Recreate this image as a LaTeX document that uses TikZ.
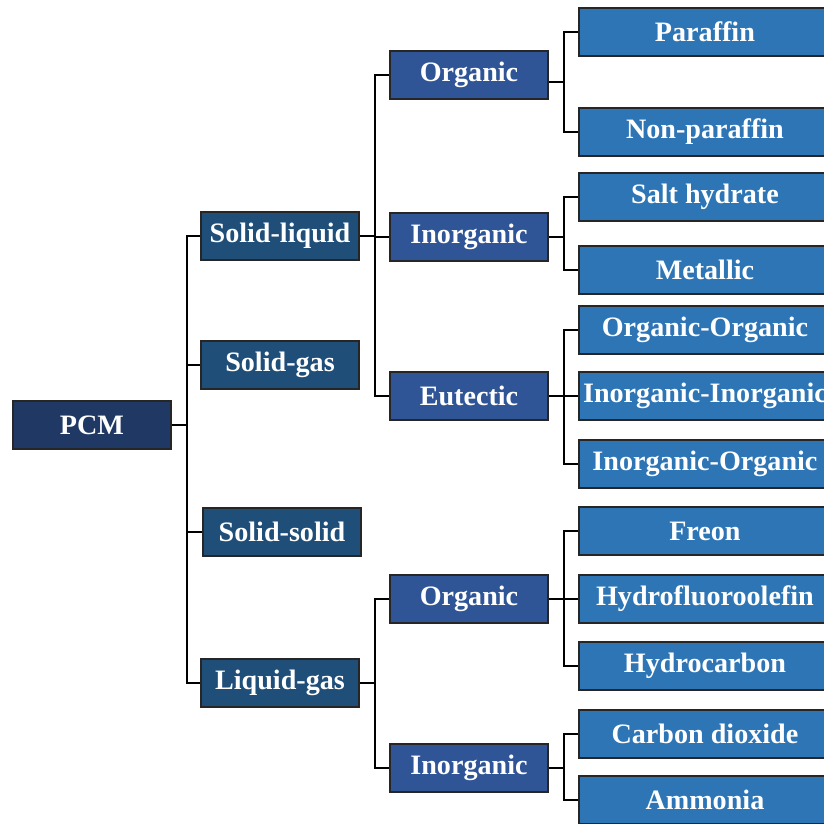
\documentclass[tikz,border=0pt]{standalone}
\usepackage{fontspec}
\setmainfont{Liberation Serif}
\usepackage{xcolor}
\usetikzlibrary{positioning, calc}
\definecolor{rootblue} {HTML}{1F3864}
\definecolor{phaseblue}{HTML}{1F4E79}
\definecolor{classblue}{HTML}{2F5597}
\definecolor{typeblue} {HTML}{2E75B6}

\begin{document}
\begin{tikzpicture}[
  x=0.025cm, y=-0.025cm,
  % one box look for every level, only the fill changes from left to right
  box/.style={draw=black!85, line width=1.3pt, minimum height=1.2cm,
              inner sep=0pt, text=white,
              font=\fontsize{20}{24}\selectfont\bfseries},
  root/.style={box, fill=rootblue, minimum width=3.95cm},
  phase/.style={box, fill=phaseblue, minimum width=3.95cm},
  class/.style={box, fill=classblue, minimum width=3.95cm},
  % the right column runs past the page edge, so it is anchored on its left side
  kind/.style={box, fill=typeblue, minimum width=6.3cm, anchor=west},
  link/.style={line width=1.3pt, color=black}
]
\useasboundingbox (0,0) rectangle (824,824);
\clip (0,0) rectangle (824,824);

\node[root] (pcm) at (92, 425) {PCM};

\node[phase] (sl) at (280, 236) {Solid-liquid};
\node[phase] (sg) at (280, 365) {Solid-gas};
\node[phase] (ss) at (282, 532) {Solid-solid};
\node[phase] (lg) at (280, 683) {Liquid-gas};

\node[class] (slorg) at (469,  75) {Organic};
\node[class] (slinr) at (469, 237) {Inorganic};
\node[class] (sleut) at (469, 396) {Eutectic};
\node[class] (lgorg) at (469, 599) {Organic};
\node[class] (lginr) at (469, 768) {Inorganic};

\node[kind] (par)  at (578,  32) {Paraffin};
\node[kind] (npar) at (578, 132) {Non-paraffin};
\node[kind] (salt) at (578, 197) {Salt hydrate};
\node[kind] (met)  at (578, 270) {Metallic};
\node[kind] (oo)   at (578, 330) {Organic-Organic};
\node[kind] (ii)   at (578, 396) {Inorganic-Inorganic};
\node[kind] (io)   at (578, 464) {Inorganic-Organic};
\node[kind] (fre)  at (578, 531) {Freon};
\node[kind] (hfo)  at (578, 599) {Hydrofluoroolefin};
\node[kind] (hc)   at (578, 666) {Hydrocarbon};
\node[kind] (co2)  at (578, 734) {Carbon dioxide};
\node[kind] (nh3)  at (578, 800) {Ammonia};

% tree links: out of the parent, down the bar, into the child
\foreach \c in {sl, sg, ss, lg}
  \draw[link] (pcm.east) -- ++(15,0) |- (\c.west);
\foreach \c in {slorg, slinr, sleut}
  \draw[link] (sl.east) -- ++(15,0) |- (\c.west);
\foreach \c in {lgorg, lginr}
  \draw[link] (lg.east) -- ++(15,0) |- (\c.west);

\foreach \c in {par, npar}
  \draw[link] ($(slorg.east)+(0,7)$) -- ++(15,0) |- (\c.west);
\foreach \c in {salt, met}
  \draw[link] (slinr.east) -- ++(15,0) |- (\c.west);
\foreach \c in {oo, ii, io}
  \draw[link] (sleut.east) -- ++(15,0) |- (\c.west);
\foreach \c in {fre, hfo, hc}
  \draw[link] (lgorg.east) -- ++(15,0) |- (\c.west);
\foreach \c in {co2, nh3}
  \draw[link] (lginr.east) -- ++(15,0) |- (\c.west);

\end{tikzpicture}
\end{document}
